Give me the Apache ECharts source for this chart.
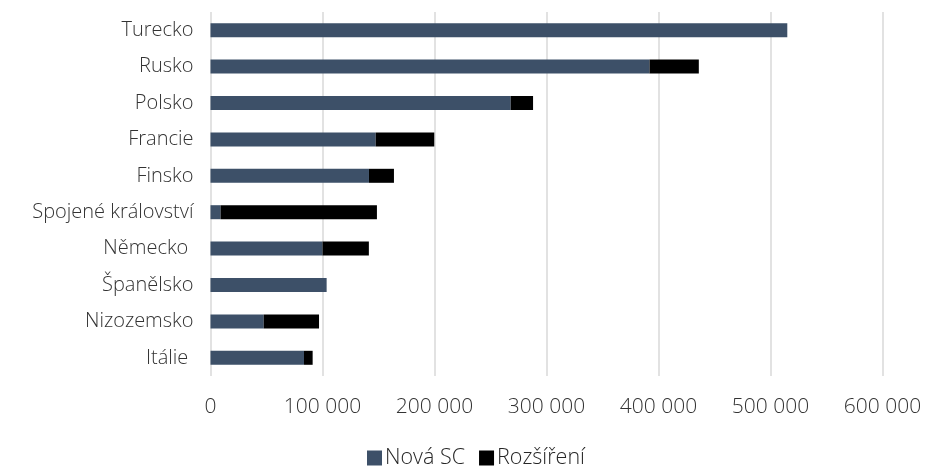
<!DOCTYPE html>
<html>
<head>
<meta charset="utf-8">
<script src="https://cdn.jsdelivr.net/npm/echarts@6/dist/echarts.min.js"></script>
<style>
  html, body { margin: 0; padding: 0; background: #fff; }
  #main { width: 926px; height: 469px; }
</style>
</head>
<body>
<div id="main"></div>
<script>
// zeme odshora dolu (v ECharts se kategorie kresli odspodu, proto reverse)
const countries = ['Turecko', 'Rusko', 'Polsko', 'Francie', 'Finsko', 'Spojené království', 'Německo ', 'Španělsko', 'Nizozemsko', 'Itálie ']
const novaSC = [515000, 392000, 268000, 147500, 141500, 9000, 100000, 103700, 47500, 83500]
const rozsireni = [0, 44000, 20000, 52300, 22300, 139600, 41400, 0, 49400, 7700]
const xTicks = [0, 100000, 200000, 300000, 400000, 500000, 600000]

var myChart = echarts.init(document.getElementById('main'));

function fmt(v) {
    return String(v).replace(/\B(?=(\d{3})+(?!\d))/g, ' ')
}

const font = '"Open Sans"'

option = {
    animation: false,
    grid: {
        left: 210.5,
        right: 43.5,
        top: 12,
        bottom: 93,
        containLabel: false
    },
    legend: {
        data: ['Nová SC', 'Rozšíření'],
        bottom: -5,
        left: 362,
        itemWidth: 15,
        itemHeight: 15,
        itemGap: 14,
        icon: 'rect',
        textStyle: {
            fontFamily: font,
            fontWeight: 300,
            fontSize: 21.5,
            color: '#262626',
            padding: [0, 0, 0, -2]
        }
    },
    xAxis: {
        type: 'value',
        min: xTicks[0],
        max: xTicks[xTicks.length - 1],
        interval: 100000,
        axisLine: { show: false },
        axisTick: { show: false },
        splitLine: { lineStyle: { color: '#d9d9d9', width: 1.5 } },
        axisLabel: {
            margin: 21,
            fontFamily: font,
            fontWeight: 300,
            fontSize: 21,
            color: '#333333',
            formatter: fmt
        }
    },
    yAxis: {
        type: 'category',
        data: countries.slice().reverse(),
        axisLine: { show: false },
        axisTick: { show: false },
        axisLabel: {
            margin: 17,
            fontFamily: font,
            fontWeight: 300,
            fontSize: 20,
            color: '#333333'
        }
    },
    series: [{
        name: 'Nová SC',
        type: 'bar',
        stack: 'celkem',
        barWidth: 14,
        itemStyle: { color: '#3d5068' },
        data: novaSC.slice().reverse()
    }, {
        name: 'Rozšíření',
        type: 'bar',
        stack: 'celkem',
        barWidth: 14,
        itemStyle: { color: '#000000' },
        data: rozsireni.slice().reverse()
    }]
};

myChart.setOption(option);
</script>
</body>
</html>
